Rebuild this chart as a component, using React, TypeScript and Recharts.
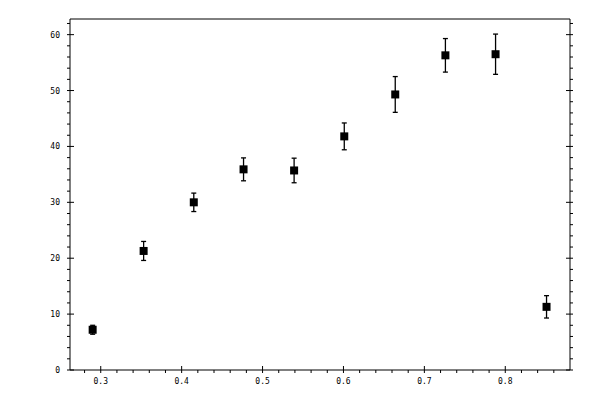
import { ScatterChart, Scatter, XAxis, YAxis, ZAxis, ErrorBar } from 'recharts'

const xValues = [0.29, 0.353, 0.415, 0.4765, 0.539, 0.601, 0.664, 0.726, 0.788, 0.851]
const yValues = [7.2, 21.3, 30.0, 35.9, 35.7, 41.8, 49.3, 56.3, 56.5, 11.3]
const yErrors = [0.8, 1.7, 1.65, 2.05, 2.2, 2.4, 3.2, 3.0, 3.6, 2.0]

const xTicks = [0.28, 0.3, 0.32, 0.34, 0.36, 0.38, 0.4, 0.42, 0.44, 0.46, 0.48, 0.5, 0.52, 0.54, 0.56, 0.58, 0.6, 0.62, 0.64, 0.66, 0.68, 0.7, 0.72, 0.74, 0.76, 0.78, 0.8, 0.82, 0.84, 0.86]
const xLabels = [0.3, 0.4, 0.5, 0.6, 0.7, 0.8]
const yTicks = [0, 2, 4, 6, 8, 10, 12, 14, 16, 18, 20, 22, 24, 26, 28, 30, 32, 34, 36, 38, 40, 42, 44, 46, 48, 50, 52, 54, 56, 58, 60, 62]
const yLabels = [0, 10, 20, 30, 40, 50, 60]

const data = xValues.map((x, i) => ({ x, y: yValues[i], err: yErrors[i] }))

const font = { fontFamily: 'DejaVu Sans Mono', fontSize: 8, fill: '#000' }

const isMajorX = (v: number) => xLabels.some(l => Math.abs(l - v) < 1e-6)
const isMajorY = (v: number) => yLabels.includes(v)

function BottomTick({ x, y, payload }: any) {
  const major = isMajorX(payload.value)
  return (
    <g>
      <line x1={x} x2={x} y1={major ? y - 4 : y} y2={y + 3} stroke="#000" />
      {major && (
        <text x={x} y={y + 14} textAnchor="middle" {...font}>{payload.value.toFixed(1)}</text>
      )}
    </g>
  )
}

function TopTick({ x, y, payload }: any) {
  const major = isMajorX(payload.value)
  return <line x1={x} x2={x} y1={y - 3} y2={major ? y + 4 : y} stroke="#000" />
}

function LeftTick({ x, y, payload }: any) {
  const major = isMajorY(payload.value)
  return (
    <g>
      <line x1={x - 3} x2={major ? x + 4 : x} y1={y} y2={y} stroke="#000" />
      {major && (
        <text x={x - 10} y={y + 3} textAnchor="end" {...font}>{payload.value}</text>
      )}
    </g>
  )
}

function RightTick({ x, y, payload }: any) {
  const major = isMajorY(payload.value)
  return <line x1={major ? x - 4 : x} x2={x + 3} y1={y} y2={y} stroke="#000" />
}

export default function App() {
  return (
    <div style={{ position: 'absolute', left: 0, top: 0, background: '#fff' }}>
      <ScatterChart width={600} height={400} margin={{ top: 0, right: 0, bottom: 0, left: 0 }}>
        <XAxis xAxisId="bottom" dataKey="x" type="number" domain={[0.262, 0.88]} allowDataOverflow
          ticks={xTicks} interval={0} height={30} tickSize={0} tickMargin={0} tickLine={false}
          axisLine={{ stroke: '#000' }} tick={<BottomTick />} />
        <XAxis xAxisId="top" orientation="top" type="number" domain={[0.262, 0.88]} allowDataOverflow
          ticks={xTicks} interval={0} height={19} tickSize={0} tickMargin={0} tickLine={false}
          axisLine={{ stroke: '#000' }} tick={<TopTick />} />
        <YAxis yAxisId="left" dataKey="y" type="number" domain={[0, 62.8]} allowDataOverflow
          ticks={yTicks} interval={0} width={70} tickSize={0} tickMargin={0} tickLine={false}
          axisLine={{ stroke: '#000' }} tick={<LeftTick />} />
        <YAxis yAxisId="right" orientation="right" type="number" domain={[0, 62.8]} allowDataOverflow
          ticks={yTicks} interval={0} width={30} tickSize={0} tickMargin={0} tickLine={false}
          axisLine={{ stroke: '#000' }} tick={<RightTick />} />
        <ZAxis range={[56, 56]} />
        <Scatter data={data} xAxisId="bottom" yAxisId="left" shape="square" fill="#000" isAnimationActive={false}>
          <ErrorBar dataKey="err" direction="y" width={2.5} stroke="#000" strokeWidth={1.3} isAnimationActive={false} />
        </Scatter>
      </ScatterChart>
    </div>
  )
}
